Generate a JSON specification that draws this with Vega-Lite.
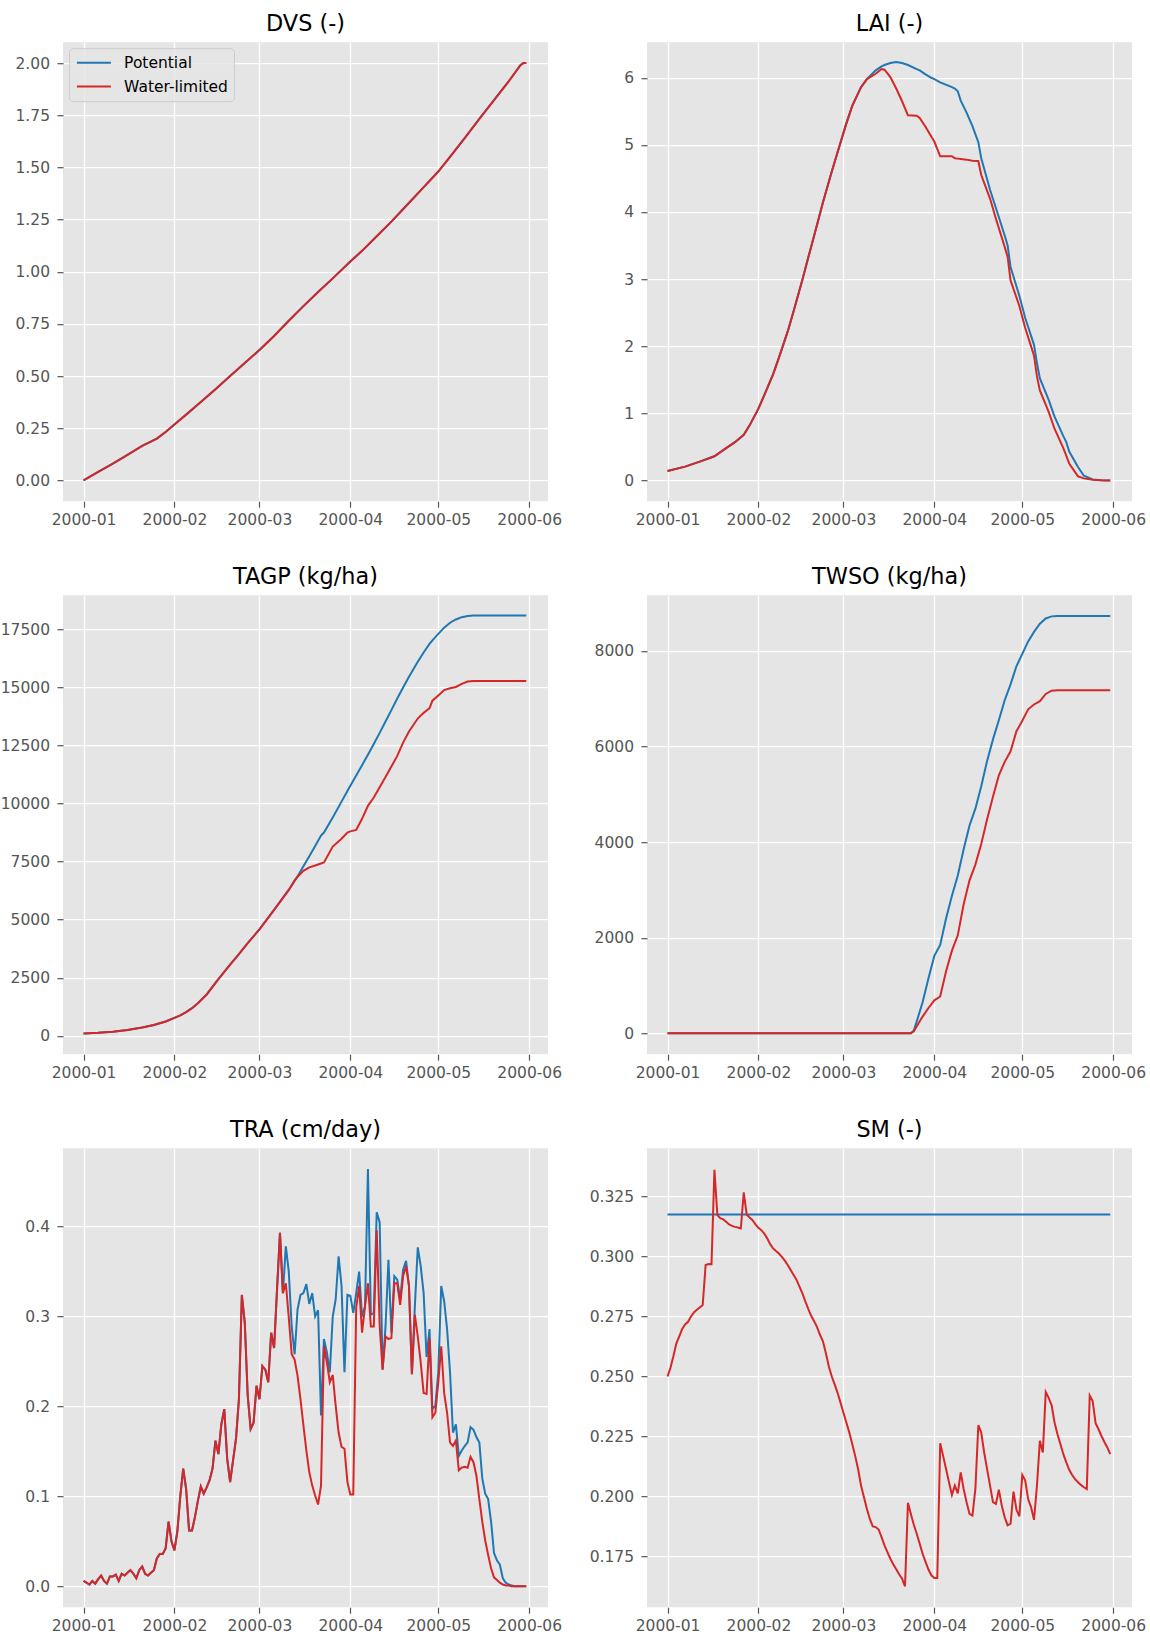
{
"$schema":"https://vega.github.io/schema/vega-lite/v6.json",
"background":"white",
"padding":{"left":0,"top":13.2,"right":0,"bottom":0},
"bounds":"flush",
"columns":2,
"spacing":{"row":94,"column":99},
"config":{
 "font":"DejaVu Sans",
 "view":{"fill":"#E5E5E5","stroke":null},
 "axis":{"labelFont":"DejaVu Sans","labelFontSize":15.5,"labelColor":"#555555","tickColor":"#555555","tickSize":6,"tickWidth":1.2,"domain":false,"grid":true,"gridColor":"#FFFFFF","gridWidth":1.3,"gridOpacity":1,"labelFlush":false},
 "axisX":{"labelPadding":5.5},
 "axisY":{"labelPadding":7.5},
 "title":{"font":"DejaVu Sans","fontSize":22.4,"fontWeight":"normal","color":"#000000","anchor":"middle","frame":"group","baseline":"alphabetic","offset":6.5},
 "line":{"strokeWidth":2}
},
"resolve":{"scale":{"x":"independent","y":"independent","color":"independent"},"legend":{"color":"independent"}},
"datasets":{
"dvs":[
{"date":"2000-01-01","Potential":0.000,"Water-limited":0.000},
{"date":"2000-01-06","Potential":0.040,"Water-limited":0.040},
{"date":"2000-01-11","Potential":0.080,"Water-limited":0.080},
{"date":"2000-01-16","Potential":0.122,"Water-limited":0.122},
{"date":"2000-01-21","Potential":0.165,"Water-limited":0.165},
{"date":"2000-01-26","Potential":0.200,"Water-limited":0.200},
{"date":"2000-01-29","Potential":0.232,"Water-limited":0.232},
{"date":"2000-02-01","Potential":0.268,"Water-limited":0.268},
{"date":"2000-02-05","Potential":0.315,"Water-limited":0.315},
{"date":"2000-02-10","Potential":0.375,"Water-limited":0.375},
{"date":"2000-02-15","Potential":0.437,"Water-limited":0.437},
{"date":"2000-02-20","Potential":0.500,"Water-limited":0.500},
{"date":"2000-02-25","Potential":0.562,"Water-limited":0.562},
{"date":"2000-03-01","Potential":0.625,"Water-limited":0.625},
{"date":"2000-03-06","Potential":0.692,"Water-limited":0.692},
{"date":"2000-03-11","Potential":0.765,"Water-limited":0.765},
{"date":"2000-03-16","Potential":0.835,"Water-limited":0.835},
{"date":"2000-03-21","Potential":0.903,"Water-limited":0.903},
{"date":"2000-03-26","Potential":0.968,"Water-limited":0.968},
{"date":"2000-04-01","Potential":1.049,"Water-limited":1.049},
{"date":"2000-04-05","Potential":1.100,"Water-limited":1.100},
{"date":"2000-04-10","Potential":1.170,"Water-limited":1.170},
{"date":"2000-04-15","Potential":1.240,"Water-limited":1.240},
{"date":"2000-04-20","Potential":1.315,"Water-limited":1.315},
{"date":"2000-04-25","Potential":1.390,"Water-limited":1.390},
{"date":"2000-05-01","Potential":1.480,"Water-limited":1.480},
{"date":"2000-05-05","Potential":1.550,"Water-limited":1.550},
{"date":"2000-05-10","Potential":1.640,"Water-limited":1.640},
{"date":"2000-05-15","Potential":1.732,"Water-limited":1.732},
{"date":"2000-05-20","Potential":1.822,"Water-limited":1.822},
{"date":"2000-05-25","Potential":1.912,"Water-limited":1.912},
{"date":"2000-05-29","Potential":1.990,"Water-limited":1.990},
{"date":"2000-05-30","Potential":2.000,"Water-limited":2.000},
{"date":"2000-05-31","Potential":2.000,"Water-limited":2.000}
],
"lai":[
{"date":"2000-01-01","Potential":0.14,"Water-limited":0.14},
{"date":"2000-01-07","Potential":0.205,"Water-limited":0.205},
{"date":"2000-01-12","Potential":0.28,"Water-limited":0.28},
{"date":"2000-01-17","Potential":0.36,"Water-limited":0.36},
{"date":"2000-01-21","Potential":0.48,"Water-limited":0.48},
{"date":"2000-01-24","Potential":0.57,"Water-limited":0.57},
{"date":"2000-01-27","Potential":0.68,"Water-limited":0.68},
{"date":"2000-01-29","Potential":0.82,"Water-limited":0.82},
{"date":"2000-02-01","Potential":1.07,"Water-limited":1.07},
{"date":"2000-02-03","Potential":1.27,"Water-limited":1.27},
{"date":"2000-02-06","Potential":1.58,"Water-limited":1.58},
{"date":"2000-02-08","Potential":1.83,"Water-limited":1.83},
{"date":"2000-02-11","Potential":2.22,"Water-limited":2.22},
{"date":"2000-02-13","Potential":2.52,"Water-limited":2.52},
{"date":"2000-02-16","Potential":2.99,"Water-limited":2.99},
{"date":"2000-02-18","Potential":3.32,"Water-limited":3.32},
{"date":"2000-02-21","Potential":3.81,"Water-limited":3.81},
{"date":"2000-02-23","Potential":4.14,"Water-limited":4.14},
{"date":"2000-02-26","Potential":4.60,"Water-limited":4.60},
{"date":"2000-02-28","Potential":4.89,"Water-limited":4.89},
{"date":"2000-03-02","Potential":5.32,"Water-limited":5.32},
{"date":"2000-03-04","Potential":5.58,"Water-limited":5.58},
{"date":"2000-03-07","Potential":5.86,"Water-limited":5.86},
{"date":"2000-03-09","Potential":5.98,"Water-limited":5.98},
{"date":"2000-03-12","Potential":6.11,"Water-limited":6.06},
{"date":"2000-03-14","Potential":6.17,"Water-limited":6.13},
{"date":"2000-03-15","Potential":6.19,"Water-limited":6.12},
{"date":"2000-03-17","Potential":6.22,"Water-limited":6.01},
{"date":"2000-03-19","Potential":6.235,"Water-limited":5.84},
{"date":"2000-03-21","Potential":6.22,"Water-limited":5.65},
{"date":"2000-03-23","Potential":6.19,"Water-limited":5.44},
{"date":"2000-03-26","Potential":6.13,"Water-limited":5.435},
{"date":"2000-03-27","Potential":6.11,"Water-limited":5.40},
{"date":"2000-03-29","Potential":6.05,"Water-limited":5.27},
{"date":"2000-03-31","Potential":6.00,"Water-limited":5.12},
{"date":"2000-04-01","Potential":5.98,"Water-limited":5.05},
{"date":"2000-04-03","Potential":5.93,"Water-limited":4.83},
{"date":"2000-04-07","Potential":5.86,"Water-limited":4.83},
{"date":"2000-04-08","Potential":5.84,"Water-limited":4.80},
{"date":"2000-04-09","Potential":5.80,"Water-limited":4.795},
{"date":"2000-04-10","Potential":5.66,"Water-limited":4.79},
{"date":"2000-04-12","Potential":5.48,"Water-limited":4.78},
{"date":"2000-04-14","Potential":5.28,"Water-limited":4.765},
{"date":"2000-04-16","Potential":5.04,"Water-limited":4.76},
{"date":"2000-04-17","Potential":4.80,"Water-limited":4.55},
{"date":"2000-04-20","Potential":4.33,"Water-limited":4.20},
{"date":"2000-04-22","Potential":4.06,"Water-limited":3.90},
{"date":"2000-04-25","Potential":3.65,"Water-limited":3.48},
{"date":"2000-04-26","Potential":3.50,"Water-limited":3.33},
{"date":"2000-04-27","Potential":3.18,"Water-limited":2.98},
{"date":"2000-04-30","Potential":2.75,"Water-limited":2.60},
{"date":"2000-05-02","Potential":2.42,"Water-limited":2.27},
{"date":"2000-05-05","Potential":2.02,"Water-limited":1.86},
{"date":"2000-05-06","Potential":1.75,"Water-limited":1.55},
{"date":"2000-05-07","Potential":1.52,"Water-limited":1.34},
{"date":"2000-05-10","Potential":1.20,"Water-limited":1.02},
{"date":"2000-05-12","Potential":0.95,"Water-limited":0.77},
{"date":"2000-05-15","Potential":0.66,"Water-limited":0.48},
{"date":"2000-05-16","Potential":0.57,"Water-limited":0.37},
{"date":"2000-05-17","Potential":0.43,"Water-limited":0.25},
{"date":"2000-05-20","Potential":0.20,"Water-limited":0.06},
{"date":"2000-05-22","Potential":0.07,"Water-limited":0.03},
{"date":"2000-05-25","Potential":0.015,"Water-limited":0.008},
{"date":"2000-05-28","Potential":0.003,"Water-limited":0.002},
{"date":"2000-05-31","Potential":0.0,"Water-limited":0.0}
],
"tagp":[
{"date":"2000-01-01","Potential":103,"Water-limited":103},
{"date":"2000-01-06","Potential":128,"Water-limited":128},
{"date":"2000-01-11","Potential":175,"Water-limited":175},
{"date":"2000-01-16","Potential":255,"Water-limited":255},
{"date":"2000-01-21","Potential":360,"Water-limited":360},
{"date":"2000-01-25","Potential":470,"Water-limited":470},
{"date":"2000-01-29","Potential":620,"Water-limited":620},
{"date":"2000-02-01","Potential":770,"Water-limited":770},
{"date":"2000-02-03","Potential":880,"Water-limited":880},
{"date":"2000-02-05","Potential":1020,"Water-limited":1020},
{"date":"2000-02-07","Potential":1190,"Water-limited":1190},
{"date":"2000-02-09","Potential":1400,"Water-limited":1400},
{"date":"2000-02-12","Potential":1780,"Water-limited":1780},
{"date":"2000-02-16","Potential":2440,"Water-limited":2440},
{"date":"2000-02-20","Potential":3060,"Water-limited":3060},
{"date":"2000-02-23","Potential":3520,"Water-limited":3520},
{"date":"2000-02-26","Potential":3990,"Water-limited":3990},
{"date":"2000-03-01","Potential":4580,"Water-limited":4580},
{"date":"2000-03-06","Potential":5420,"Water-limited":5420},
{"date":"2000-03-11","Potential":6280,"Water-limited":6280},
{"date":"2000-03-13","Potential":6680,"Water-limited":6680},
{"date":"2000-03-14","Potential":6860,"Water-limited":6850},
{"date":"2000-03-16","Potential":7300,"Water-limited":7100},
{"date":"2000-03-18","Potential":7730,"Water-limited":7250},
{"date":"2000-03-20","Potential":8170,"Water-limited":7330},
{"date":"2000-03-22","Potential":8620,"Water-limited":7420},
{"date":"2000-03-23","Potential":8750,"Water-limited":7460},
{"date":"2000-03-26","Potential":9400,"Water-limited":8144},
{"date":"2000-03-29","Potential":10080,"Water-limited":8484},
{"date":"2000-03-31","Potential":10540,"Water-limited":8750},
{"date":"2000-04-01","Potential":10760,"Water-limited":8800},
{"date":"2000-04-03","Potential":11200,"Water-limited":8860},
{"date":"2000-04-05","Potential":11650,"Water-limited":9340},
{"date":"2000-04-07","Potential":12100,"Water-limited":9900},
{"date":"2000-04-09","Potential":12560,"Water-limited":10257},
{"date":"2000-04-11","Potential":13040,"Water-limited":10700},
{"date":"2000-04-13","Potential":13530,"Water-limited":11144},
{"date":"2000-04-15","Potential":14020,"Water-limited":11587},
{"date":"2000-04-17","Potential":14520,"Water-limited":12050},
{"date":"2000-04-19","Potential":14990,"Water-limited":12622},
{"date":"2000-04-21","Potential":15450,"Water-limited":13100},
{"date":"2000-04-24","Potential":16100,"Water-limited":13656},
{"date":"2000-04-26","Potential":16500,"Water-limited":13900},
{"date":"2000-04-28","Potential":16870,"Water-limited":14100},
{"date":"2000-04-29","Potential":17020,"Water-limited":14425},
{"date":"2000-05-01","Potential":17300,"Water-limited":14650},
{"date":"2000-05-03","Potential":17570,"Water-limited":14883},
{"date":"2000-05-05","Potential":17780,"Water-limited":14960},
{"date":"2000-05-07","Potential":17920,"Water-limited":15016},
{"date":"2000-05-09","Potential":18020,"Water-limited":15150},
{"date":"2000-05-11","Potential":18070,"Water-limited":15250},
{"date":"2000-05-13","Potential":18090,"Water-limited":15268},
{"date":"2000-05-31","Potential":18090,"Water-limited":15268}
],
"twso":[
{"date":"2000-01-01","Potential":0,"Water-limited":0},
{"date":"2000-03-24","Potential":0,"Water-limited":0},
{"date":"2000-03-25","Potential":60,"Water-limited":40},
{"date":"2000-03-26","Potential":250,"Water-limited":150},
{"date":"2000-03-28","Potential":650,"Water-limited":350},
{"date":"2000-03-30","Potential":1150,"Water-limited":530},
{"date":"2000-04-01","Potential":1620,"Water-limited":690},
{"date":"2000-04-03","Potential":1850,"Water-limited":770},
{"date":"2000-04-05","Potential":2400,"Water-limited":1300},
{"date":"2000-04-07","Potential":2880,"Water-limited":1730},
{"date":"2000-04-09","Potential":3300,"Water-limited":2050},
{"date":"2000-04-11","Potential":3850,"Water-limited":2700},
{"date":"2000-04-13","Potential":4350,"Water-limited":3200},
{"date":"2000-04-15","Potential":4700,"Water-limited":3530},
{"date":"2000-04-17","Potential":5170,"Water-limited":3960},
{"date":"2000-04-19","Potential":5700,"Water-limited":4480},
{"date":"2000-04-21","Potential":6150,"Water-limited":4950},
{"date":"2000-04-23","Potential":6550,"Water-limited":5400},
{"date":"2000-04-25","Potential":6970,"Water-limited":5680},
{"date":"2000-04-27","Potential":7300,"Water-limited":5900},
{"date":"2000-04-29","Potential":7680,"Water-limited":6320},
{"date":"2000-05-01","Potential":7940,"Water-limited":6540},
{"date":"2000-05-03","Potential":8200,"Water-limited":6780},
{"date":"2000-05-05","Potential":8400,"Water-limited":6880},
{"date":"2000-05-07","Potential":8570,"Water-limited":6950},
{"date":"2000-05-09","Potential":8680,"Water-limited":7100},
{"date":"2000-05-11","Potential":8724,"Water-limited":7168},
{"date":"2000-05-13","Potential":8730,"Water-limited":7176},
{"date":"2000-05-31","Potential":8730,"Water-limited":7176}
],
"tra":[
{"date":"2000-01-01","Potential":0.006,"Water-limited":0.006},
{"date":"2000-01-02","Potential":0.004,"Water-limited":0.004},
{"date":"2000-01-03","Potential":0.002,"Water-limited":0.002},
{"date":"2000-01-04","Potential":0.006,"Water-limited":0.006},
{"date":"2000-01-05","Potential":0.003,"Water-limited":0.003},
{"date":"2000-01-06","Potential":0.008,"Water-limited":0.008},
{"date":"2000-01-07","Potential":0.012,"Water-limited":0.012},
{"date":"2000-01-08","Potential":0.006,"Water-limited":0.006},
{"date":"2000-01-09","Potential":0.003,"Water-limited":0.003},
{"date":"2000-01-10","Potential":0.011,"Water-limited":0.011},
{"date":"2000-01-11","Potential":0.011,"Water-limited":0.011},
{"date":"2000-01-12","Potential":0.013,"Water-limited":0.013},
{"date":"2000-01-13","Potential":0.006,"Water-limited":0.006},
{"date":"2000-01-14","Potential":0.014,"Water-limited":0.014},
{"date":"2000-01-15","Potential":0.012,"Water-limited":0.012},
{"date":"2000-01-16","Potential":0.015,"Water-limited":0.015},
{"date":"2000-01-17","Potential":0.018,"Water-limited":0.018},
{"date":"2000-01-18","Potential":0.014,"Water-limited":0.014},
{"date":"2000-01-19","Potential":0.009,"Water-limited":0.009},
{"date":"2000-01-20","Potential":0.018,"Water-limited":0.018},
{"date":"2000-01-21","Potential":0.022,"Water-limited":0.022},
{"date":"2000-01-22","Potential":0.014,"Water-limited":0.014},
{"date":"2000-01-23","Potential":0.012,"Water-limited":0.012},
{"date":"2000-01-24","Potential":0.015,"Water-limited":0.015},
{"date":"2000-01-25","Potential":0.018,"Water-limited":0.018},
{"date":"2000-01-26","Potential":0.031,"Water-limited":0.031},
{"date":"2000-01-27","Potential":0.036,"Water-limited":0.036},
{"date":"2000-01-28","Potential":0.036,"Water-limited":0.036},
{"date":"2000-01-29","Potential":0.042,"Water-limited":0.042},
{"date":"2000-01-30","Potential":0.072,"Water-limited":0.072},
{"date":"2000-01-31","Potential":0.050,"Water-limited":0.050},
{"date":"2000-02-01","Potential":0.040,"Water-limited":0.040},
{"date":"2000-02-02","Potential":0.061,"Water-limited":0.061},
{"date":"2000-02-03","Potential":0.100,"Water-limited":0.100},
{"date":"2000-02-04","Potential":0.131,"Water-limited":0.131},
{"date":"2000-02-05","Potential":0.108,"Water-limited":0.108},
{"date":"2000-02-06","Potential":0.062,"Water-limited":0.062},
{"date":"2000-02-07","Potential":0.062,"Water-limited":0.062},
{"date":"2000-02-08","Potential":0.077,"Water-limited":0.077},
{"date":"2000-02-09","Potential":0.095,"Water-limited":0.095},
{"date":"2000-02-10","Potential":0.111,"Water-limited":0.111},
{"date":"2000-02-11","Potential":0.103,"Water-limited":0.103},
{"date":"2000-02-12","Potential":0.110,"Water-limited":0.110},
{"date":"2000-02-13","Potential":0.118,"Water-limited":0.118},
{"date":"2000-02-14","Potential":0.131,"Water-limited":0.131},
{"date":"2000-02-15","Potential":0.162,"Water-limited":0.162},
{"date":"2000-02-16","Potential":0.147,"Water-limited":0.147},
{"date":"2000-02-17","Potential":0.180,"Water-limited":0.180},
{"date":"2000-02-18","Potential":0.197,"Water-limited":0.197},
{"date":"2000-02-19","Potential":0.142,"Water-limited":0.142},
{"date":"2000-02-20","Potential":0.116,"Water-limited":0.116},
{"date":"2000-02-21","Potential":0.140,"Water-limited":0.140},
{"date":"2000-02-22","Potential":0.164,"Water-limited":0.164},
{"date":"2000-02-23","Potential":0.208,"Water-limited":0.208},
{"date":"2000-02-24","Potential":0.324,"Water-limited":0.324},
{"date":"2000-02-25","Potential":0.293,"Water-limited":0.293},
{"date":"2000-02-26","Potential":0.212,"Water-limited":0.212},
{"date":"2000-02-27","Potential":0.175,"Water-limited":0.175},
{"date":"2000-02-28","Potential":0.182,"Water-limited":0.182},
{"date":"2000-02-29","Potential":0.223,"Water-limited":0.223},
{"date":"2000-03-01","Potential":0.208,"Water-limited":0.208},
{"date":"2000-03-02","Potential":0.245,"Water-limited":0.245},
{"date":"2000-03-03","Potential":0.241,"Water-limited":0.241},
{"date":"2000-03-04","Potential":0.227,"Water-limited":0.227},
{"date":"2000-03-05","Potential":0.282,"Water-limited":0.282},
{"date":"2000-03-06","Potential":0.265,"Water-limited":0.265},
{"date":"2000-03-07","Potential":0.330,"Water-limited":0.330},
{"date":"2000-03-08","Potential":0.393,"Water-limited":0.393},
{"date":"2000-03-09","Potential":0.326,"Water-limited":0.326},
{"date":"2000-03-10","Potential":0.378,"Water-limited":0.337},
{"date":"2000-03-11","Potential":0.350,"Water-limited":0.299},
{"date":"2000-03-12","Potential":0.289,"Water-limited":0.258},
{"date":"2000-03-13","Potential":0.258,"Water-limited":0.252},
{"date":"2000-03-14","Potential":0.308,"Water-limited":0.234},
{"date":"2000-03-15","Potential":0.324,"Water-limited":0.208},
{"date":"2000-03-16","Potential":0.326,"Water-limited":0.179},
{"date":"2000-03-17","Potential":0.336,"Water-limited":0.151},
{"date":"2000-03-18","Potential":0.314,"Water-limited":0.127},
{"date":"2000-03-19","Potential":0.326,"Water-limited":0.112},
{"date":"2000-03-20","Potential":0.300,"Water-limited":0.101},
{"date":"2000-03-21","Potential":0.307,"Water-limited":0.091},
{"date":"2000-03-22","Potential":0.190,"Water-limited":0.112},
{"date":"2000-03-23","Potential":0.275,"Water-limited":0.267},
{"date":"2000-03-24","Potential":0.260,"Water-limited":0.249},
{"date":"2000-03-25","Potential":0.238,"Water-limited":0.227},
{"date":"2000-03-26","Potential":0.300,"Water-limited":0.235},
{"date":"2000-03-27","Potential":0.319,"Water-limited":0.201},
{"date":"2000-03-28","Potential":0.367,"Water-limited":0.171},
{"date":"2000-03-29","Potential":0.334,"Water-limited":0.155},
{"date":"2000-03-30","Potential":0.238,"Water-limited":0.153},
{"date":"2000-03-31","Potential":0.324,"Water-limited":0.116},
{"date":"2000-04-01","Potential":0.323,"Water-limited":0.102},
{"date":"2000-04-02","Potential":0.304,"Water-limited":0.102},
{"date":"2000-04-03","Potential":0.326,"Water-limited":0.310},
{"date":"2000-04-04","Potential":0.350,"Water-limited":0.334},
{"date":"2000-04-05","Potential":0.300,"Water-limited":0.282},
{"date":"2000-04-06","Potential":0.311,"Water-limited":0.311},
{"date":"2000-04-07","Potential":0.464,"Water-limited":0.337},
{"date":"2000-04-08","Potential":0.302,"Water-limited":0.289},
{"date":"2000-04-09","Potential":0.304,"Water-limited":0.289},
{"date":"2000-04-10","Potential":0.416,"Water-limited":0.396},
{"date":"2000-04-11","Potential":0.405,"Water-limited":0.290},
{"date":"2000-04-12","Potential":0.241,"Water-limited":0.241},
{"date":"2000-04-13","Potential":0.289,"Water-limited":0.278},
{"date":"2000-04-14","Potential":0.363,"Water-limited":0.275},
{"date":"2000-04-15","Potential":0.282,"Water-limited":0.276},
{"date":"2000-04-16","Potential":0.345,"Water-limited":0.337},
{"date":"2000-04-17","Potential":0.341,"Water-limited":0.337},
{"date":"2000-04-18","Potential":0.319,"Water-limited":0.313},
{"date":"2000-04-19","Potential":0.352,"Water-limited":0.345},
{"date":"2000-04-20","Potential":0.362,"Water-limited":0.356},
{"date":"2000-04-21","Potential":0.334,"Water-limited":0.334},
{"date":"2000-04-22","Potential":0.236,"Water-limited":0.236},
{"date":"2000-04-23","Potential":0.311,"Water-limited":0.302},
{"date":"2000-04-24","Potential":0.377,"Water-limited":0.278},
{"date":"2000-04-25","Potential":0.356,"Water-limited":0.249},
{"date":"2000-04-26","Potential":0.326,"Water-limited":0.215},
{"date":"2000-04-27","Potential":0.255,"Water-limited":0.214},
{"date":"2000-04-28","Potential":0.286,"Water-limited":0.276},
{"date":"2000-04-29","Potential":0.197,"Water-limited":0.188},
{"date":"2000-04-30","Potential":0.201,"Water-limited":0.193},
{"date":"2000-05-01","Potential":0.238,"Water-limited":0.227},
{"date":"2000-05-02","Potential":0.334,"Water-limited":0.267},
{"date":"2000-05-03","Potential":0.317,"Water-limited":0.215},
{"date":"2000-05-04","Potential":0.286,"Water-limited":0.193},
{"date":"2000-05-05","Potential":0.238,"Water-limited":0.160},
{"date":"2000-05-06","Potential":0.171,"Water-limited":0.156},
{"date":"2000-05-07","Potential":0.180,"Water-limited":0.162},
{"date":"2000-05-08","Potential":0.145,"Water-limited":0.129},
{"date":"2000-05-09","Potential":0.151,"Water-limited":0.132},
{"date":"2000-05-10","Potential":0.156,"Water-limited":0.133},
{"date":"2000-05-11","Potential":0.160,"Water-limited":0.132},
{"date":"2000-05-12","Potential":0.177,"Water-limited":0.144},
{"date":"2000-05-13","Potential":0.174,"Water-limited":0.138},
{"date":"2000-05-14","Potential":0.166,"Water-limited":0.123},
{"date":"2000-05-15","Potential":0.160,"Water-limited":0.097},
{"date":"2000-05-16","Potential":0.120,"Water-limited":0.072},
{"date":"2000-05-17","Potential":0.103,"Water-limited":0.051},
{"date":"2000-05-18","Potential":0.097,"Water-limited":0.035},
{"date":"2000-05-19","Potential":0.072,"Water-limited":0.020},
{"date":"2000-05-20","Potential":0.037,"Water-limited":0.010},
{"date":"2000-05-21","Potential":0.029,"Water-limited":0.007},
{"date":"2000-05-22","Potential":0.024,"Water-limited":0.004},
{"date":"2000-05-23","Potential":0.009,"Water-limited":0.002},
{"date":"2000-05-24","Potential":0.004,"Water-limited":0.001},
{"date":"2000-05-25","Potential":0.002,"Water-limited":0.001},
{"date":"2000-05-26","Potential":0.001,"Water-limited":0.0},
{"date":"2000-05-27","Potential":0.0,"Water-limited":0.0},
{"date":"2000-05-28","Potential":0.0,"Water-limited":0.0},
{"date":"2000-05-29","Potential":0.0,"Water-limited":0.0},
{"date":"2000-05-30","Potential":0.0,"Water-limited":0.0},
{"date":"2000-05-31","Potential":0.0,"Water-limited":0.0}
],
"sm":[
{"date":"2000-01-01","Potential":0.3175,"Water-limited":0.2500},
{"date":"2000-01-02","Potential":0.3175,"Water-limited":0.2536},
{"date":"2000-01-03","Potential":0.3175,"Water-limited":0.2584},
{"date":"2000-01-04","Potential":0.3175,"Water-limited":0.2637},
{"date":"2000-01-05","Potential":0.3175,"Water-limited":0.2667},
{"date":"2000-01-06","Potential":0.3175,"Water-limited":0.2698},
{"date":"2000-01-07","Potential":0.3175,"Water-limited":0.2717},
{"date":"2000-01-08","Potential":0.3175,"Water-limited":0.2728},
{"date":"2000-01-09","Potential":0.3175,"Water-limited":0.2750},
{"date":"2000-01-10","Potential":0.3175,"Water-limited":0.2767},
{"date":"2000-01-11","Potential":0.3175,"Water-limited":0.2778},
{"date":"2000-01-12","Potential":0.3175,"Water-limited":0.2788},
{"date":"2000-01-13","Potential":0.3175,"Water-limited":0.2798},
{"date":"2000-01-14","Potential":0.3175,"Water-limited":0.2965},
{"date":"2000-01-15","Potential":0.3175,"Water-limited":0.2969},
{"date":"2000-01-16","Potential":0.3175,"Water-limited":0.2968},
{"date":"2000-01-17","Potential":0.3175,"Water-limited":0.3362},
{"date":"2000-01-18","Potential":0.3175,"Water-limited":0.3173},
{"date":"2000-01-19","Potential":0.3175,"Water-limited":0.3160},
{"date":"2000-01-20","Potential":0.3175,"Water-limited":0.3155},
{"date":"2000-01-21","Potential":0.3175,"Water-limited":0.3145},
{"date":"2000-01-22","Potential":0.3175,"Water-limited":0.3134},
{"date":"2000-01-23","Potential":0.3175,"Water-limited":0.3128},
{"date":"2000-01-24","Potential":0.3175,"Water-limited":0.3124},
{"date":"2000-01-25","Potential":0.3175,"Water-limited":0.3121},
{"date":"2000-01-26","Potential":0.3175,"Water-limited":0.3117},
{"date":"2000-01-27","Potential":0.3175,"Water-limited":0.3268},
{"date":"2000-01-28","Potential":0.3175,"Water-limited":0.3175},
{"date":"2000-01-29","Potential":0.3175,"Water-limited":0.3163},
{"date":"2000-01-30","Potential":0.3175,"Water-limited":0.3152},
{"date":"2000-01-31","Potential":0.3175,"Water-limited":0.3134},
{"date":"2000-02-01","Potential":0.3175,"Water-limited":0.3120},
{"date":"2000-02-02","Potential":0.3175,"Water-limited":0.3110},
{"date":"2000-02-03","Potential":0.3175,"Water-limited":0.3096},
{"date":"2000-02-04","Potential":0.3175,"Water-limited":0.3076},
{"date":"2000-02-05","Potential":0.3175,"Water-limited":0.3052},
{"date":"2000-02-06","Potential":0.3175,"Water-limited":0.3034},
{"date":"2000-02-07","Potential":0.3175,"Water-limited":0.3023},
{"date":"2000-02-08","Potential":0.3175,"Water-limited":0.3013},
{"date":"2000-02-09","Potential":0.3175,"Water-limited":0.2999},
{"date":"2000-02-10","Potential":0.3175,"Water-limited":0.2983},
{"date":"2000-02-11","Potential":0.3175,"Water-limited":0.2965},
{"date":"2000-02-12","Potential":0.3175,"Water-limited":0.2944},
{"date":"2000-02-13","Potential":0.3175,"Water-limited":0.2923},
{"date":"2000-02-14","Potential":0.3175,"Water-limited":0.2903},
{"date":"2000-02-15","Potential":0.3175,"Water-limited":0.2875},
{"date":"2000-02-16","Potential":0.3175,"Water-limited":0.2847},
{"date":"2000-02-17","Potential":0.3175,"Water-limited":0.2813},
{"date":"2000-02-18","Potential":0.3175,"Water-limited":0.2782},
{"date":"2000-02-19","Potential":0.3175,"Water-limited":0.2753},
{"date":"2000-02-20","Potential":0.3175,"Water-limited":0.2730},
{"date":"2000-02-21","Potential":0.3175,"Water-limited":0.2706},
{"date":"2000-02-22","Potential":0.3175,"Water-limited":0.2674},
{"date":"2000-02-23","Potential":0.3175,"Water-limited":0.2647},
{"date":"2000-02-24","Potential":0.3175,"Water-limited":0.2598},
{"date":"2000-02-25","Potential":0.3175,"Water-limited":0.2543},
{"date":"2000-02-26","Potential":0.3175,"Water-limited":0.2501},
{"date":"2000-02-27","Potential":0.3175,"Water-limited":0.2467},
{"date":"2000-02-28","Potential":0.3175,"Water-limited":0.2432},
{"date":"2000-02-29","Potential":0.3175,"Water-limited":0.2391},
{"date":"2000-03-01","Potential":0.3175,"Water-limited":0.2349},
{"date":"2000-03-02","Potential":0.3175,"Water-limited":0.2308},
{"date":"2000-03-03","Potential":0.3175,"Water-limited":0.2266},
{"date":"2000-03-04","Potential":0.3175,"Water-limited":0.2218},
{"date":"2000-03-05","Potential":0.3175,"Water-limited":0.2169},
{"date":"2000-03-06","Potential":0.3175,"Water-limited":0.2114},
{"date":"2000-03-07","Potential":0.3175,"Water-limited":0.2045},
{"date":"2000-03-08","Potential":0.3175,"Water-limited":0.1996},
{"date":"2000-03-09","Potential":0.3175,"Water-limited":0.1948},
{"date":"2000-03-10","Potential":0.3175,"Water-limited":0.1906},
{"date":"2000-03-11","Potential":0.3175,"Water-limited":0.1875},
{"date":"2000-03-12","Potential":0.3175,"Water-limited":0.1872},
{"date":"2000-03-13","Potential":0.3175,"Water-limited":0.1862},
{"date":"2000-03-14","Potential":0.3175,"Water-limited":0.1830},
{"date":"2000-03-15","Potential":0.3175,"Water-limited":0.1796},
{"date":"2000-03-16","Potential":0.3175,"Water-limited":0.1768},
{"date":"2000-03-17","Potential":0.3175,"Water-limited":0.1740},
{"date":"2000-03-18","Potential":0.3175,"Water-limited":0.1717},
{"date":"2000-03-19","Potential":0.3175,"Water-limited":0.1696},
{"date":"2000-03-20","Potential":0.3175,"Water-limited":0.1675},
{"date":"2000-03-21","Potential":0.3175,"Water-limited":0.1657},
{"date":"2000-03-22","Potential":0.3175,"Water-limited":0.1625},
{"date":"2000-03-23","Potential":0.3175,"Water-limited":0.1973},
{"date":"2000-03-24","Potential":0.3175,"Water-limited":0.1927},
{"date":"2000-03-25","Potential":0.3175,"Water-limited":0.1882},
{"date":"2000-03-26","Potential":0.3175,"Water-limited":0.1844},
{"date":"2000-03-27","Potential":0.3175,"Water-limited":0.1803},
{"date":"2000-03-28","Potential":0.3175,"Water-limited":0.1761},
{"date":"2000-03-29","Potential":0.3175,"Water-limited":0.1727},
{"date":"2000-03-30","Potential":0.3175,"Water-limited":0.1695},
{"date":"2000-03-31","Potential":0.3175,"Water-limited":0.1671},
{"date":"2000-04-01","Potential":0.3175,"Water-limited":0.1660},
{"date":"2000-04-02","Potential":0.3175,"Water-limited":0.1660},
{"date":"2000-04-03","Potential":0.3175,"Water-limited":0.2222},
{"date":"2000-04-04","Potential":0.3175,"Water-limited":0.2169},
{"date":"2000-04-05","Potential":0.3175,"Water-limited":0.2114},
{"date":"2000-04-06","Potential":0.3175,"Water-limited":0.2059},
{"date":"2000-04-07","Potential":0.3175,"Water-limited":0.2006},
{"date":"2000-04-08","Potential":0.3175,"Water-limited":0.2045},
{"date":"2000-04-09","Potential":0.3175,"Water-limited":0.2013},
{"date":"2000-04-10","Potential":0.3175,"Water-limited":0.2100},
{"date":"2000-04-11","Potential":0.3175,"Water-limited":0.2031},
{"date":"2000-04-12","Potential":0.3175,"Water-limited":0.1976},
{"date":"2000-04-13","Potential":0.3175,"Water-limited":0.1927},
{"date":"2000-04-14","Potential":0.3175,"Water-limited":0.1920},
{"date":"2000-04-15","Potential":0.3175,"Water-limited":0.2031},
{"date":"2000-04-16","Potential":0.3175,"Water-limited":0.2297},
{"date":"2000-04-17","Potential":0.3175,"Water-limited":0.2266},
{"date":"2000-04-18","Potential":0.3175,"Water-limited":0.2183},
{"date":"2000-04-19","Potential":0.3175,"Water-limited":0.2114},
{"date":"2000-04-20","Potential":0.3175,"Water-limited":0.2045},
{"date":"2000-04-21","Potential":0.3175,"Water-limited":0.1976},
{"date":"2000-04-22","Potential":0.3175,"Water-limited":0.1969},
{"date":"2000-04-23","Potential":0.3175,"Water-limited":0.2028},
{"date":"2000-04-24","Potential":0.3175,"Water-limited":0.1962},
{"date":"2000-04-25","Potential":0.3175,"Water-limited":0.1913},
{"date":"2000-04-26","Potential":0.3175,"Water-limited":0.1879},
{"date":"2000-04-27","Potential":0.3175,"Water-limited":0.1886},
{"date":"2000-04-28","Potential":0.3175,"Water-limited":0.2020},
{"date":"2000-04-29","Potential":0.3175,"Water-limited":0.1945},
{"date":"2000-04-30","Potential":0.3175,"Water-limited":0.1917},
{"date":"2000-05-01","Potential":0.3175,"Water-limited":0.2090},
{"date":"2000-05-02","Potential":0.3175,"Water-limited":0.2066},
{"date":"2000-05-03","Potential":0.3175,"Water-limited":0.1989},
{"date":"2000-05-04","Potential":0.3175,"Water-limited":0.1955},
{"date":"2000-05-05","Potential":0.3175,"Water-limited":0.1902},
{"date":"2000-05-06","Potential":0.3175,"Water-limited":0.2045},
{"date":"2000-05-07","Potential":0.3175,"Water-limited":0.2232},
{"date":"2000-05-08","Potential":0.3175,"Water-limited":0.2183},
{"date":"2000-05-09","Potential":0.3175,"Water-limited":0.2435},
{"date":"2000-05-10","Potential":0.3175,"Water-limited":0.2411},
{"date":"2000-05-11","Potential":0.3175,"Water-limited":0.2380},
{"date":"2000-05-12","Potential":0.3175,"Water-limited":0.2308},
{"date":"2000-05-13","Potential":0.3175,"Water-limited":0.2259},
{"date":"2000-05-14","Potential":0.3175,"Water-limited":0.2218},
{"date":"2000-05-15","Potential":0.3175,"Water-limited":0.2176},
{"date":"2000-05-16","Potential":0.3175,"Water-limited":0.2142},
{"date":"2000-05-17","Potential":0.3175,"Water-limited":0.2111},
{"date":"2000-05-18","Potential":0.3175,"Water-limited":0.2089},
{"date":"2000-05-19","Potential":0.3175,"Water-limited":0.2072},
{"date":"2000-05-20","Potential":0.3175,"Water-limited":0.2059},
{"date":"2000-05-21","Potential":0.3175,"Water-limited":0.2048},
{"date":"2000-05-22","Potential":0.3175,"Water-limited":0.2038},
{"date":"2000-05-23","Potential":0.3175,"Water-limited":0.2031},
{"date":"2000-05-24","Potential":0.3175,"Water-limited":0.2421},
{"date":"2000-05-25","Potential":0.3175,"Water-limited":0.2398},
{"date":"2000-05-26","Potential":0.3175,"Water-limited":0.2305},
{"date":"2000-05-27","Potential":0.3175,"Water-limited":0.2280},
{"date":"2000-05-28","Potential":0.3175,"Water-limited":0.2252},
{"date":"2000-05-29","Potential":0.3175,"Water-limited":0.2227},
{"date":"2000-05-30","Potential":0.3175,"Water-limited":0.2204},
{"date":"2000-05-31","Potential":0.3175,"Water-limited":0.2176}
]
},
"concat":[
{
 "title":{"text":"DVS (-)"},
 "width":485,"height":459,
 "data":{"name":"dvs"},
 "transform":[{"fold":["Potential","Water-limited"],"as":["series","value"]}],
 "mark":{"type":"line","strokeWidth":2},
 "encoding":{
  "x":{"field":"date","type":"temporal","title":null,"scale":{"type":"utc","nice":false,"domain":[{"year":1999,"month":12,"date":25,"hours":0,"utc":true},{"year":2000,"month":6,"date":7,"hours":10,"utc":true}]},"axis":{"labelExpr":"utcFormat(datum.value, '%Y-%m')","values":[{"year":2000,"month":1,"date":1,"utc":true},{"year":2000,"month":2,"date":1,"utc":true},{"year":2000,"month":3,"date":1,"utc":true},{"year":2000,"month":4,"date":1,"utc":true},{"year":2000,"month":5,"date":1,"utc":true},{"year":2000,"month":6,"date":1,"utc":true}]}},
  "y":{"field":"value","type":"quantitative","title":null,"scale":{"domain":[-0.1,2.1],"nice":false,"zero":false},"axis":{"values":[0,0.25,0.5,0.75,1,1.25,1.5,1.75,2],"format":".2f"}},
  "color":{"field":"series","type":"nominal","scale":{"domain":["Potential","Water-limited"],"range":["#1f77b4","#d62728"]},
   "legend":{"orient":"top-left","offset":6,"title":null,"fillColor":"rgba(229,229,229,0.8)","strokeColor":"#CCCCCC","cornerRadius":4,"padding":5.6,"symbolType":"M-2.18,0H2.18","symbolStrokeWidth":2,"symbolSize":243,"symbolOffset":10.3,"labelFont":"DejaVu Sans","labelFontSize":15.5,"labelColor":"#000000","labelOffset":21.2,"rowPadding":5.8}}
 }
},
{
 "title":{"text":"LAI (-)"},
 "width":485,"height":459,
 "data":{"name":"lai"},
 "transform":[{"fold":["Potential","Water-limited"],"as":["series","value"]}],
 "mark":{"type":"line","strokeWidth":2},
 "encoding":{
  "x":{"field":"date","type":"temporal","title":null,"scale":{"type":"utc","nice":false,"domain":[{"year":1999,"month":12,"date":25,"hours":0,"utc":true},{"year":2000,"month":6,"date":7,"hours":10,"utc":true}]},"axis":{"labelExpr":"utcFormat(datum.value, '%Y-%m')","values":[{"year":2000,"month":1,"date":1,"utc":true},{"year":2000,"month":2,"date":1,"utc":true},{"year":2000,"month":3,"date":1,"utc":true},{"year":2000,"month":4,"date":1,"utc":true},{"year":2000,"month":5,"date":1,"utc":true},{"year":2000,"month":6,"date":1,"utc":true}]}},
  "y":{"field":"value","type":"quantitative","title":null,"scale":{"domain":[-0.31,6.53],"nice":false,"zero":false},"axis":{"values":[0,1,2,3,4,5,6],"format":"d"}},
  "color":{"field":"series","type":"nominal","scale":{"domain":["Potential","Water-limited"],"range":["#1f77b4","#d62728"]},"legend":null}
 }
},
{
 "title":{"text":"TAGP (kg/ha)"},
 "width":485,"height":459,
 "data":{"name":"tagp"},
 "transform":[{"fold":["Potential","Water-limited"],"as":["series","value"]}],
 "mark":{"type":"line","strokeWidth":2},
 "encoding":{
  "x":{"field":"date","type":"temporal","title":null,"scale":{"type":"utc","nice":false,"domain":[{"year":1999,"month":12,"date":25,"hours":0,"utc":true},{"year":2000,"month":6,"date":7,"hours":10,"utc":true}]},"axis":{"labelExpr":"utcFormat(datum.value, '%Y-%m')","values":[{"year":2000,"month":1,"date":1,"utc":true},{"year":2000,"month":2,"date":1,"utc":true},{"year":2000,"month":3,"date":1,"utc":true},{"year":2000,"month":4,"date":1,"utc":true},{"year":2000,"month":5,"date":1,"utc":true},{"year":2000,"month":6,"date":1,"utc":true}]}},
  "y":{"field":"value","type":"quantitative","title":null,"scale":{"domain":[-790,18965],"nice":false,"zero":false},"axis":{"values":[0,2500,5000,7500,10000,12500,15000,17500],"format":"d"}},
  "color":{"field":"series","type":"nominal","scale":{"domain":["Potential","Water-limited"],"range":["#1f77b4","#d62728"]},"legend":null}
 }
},
{
 "title":{"text":"TWSO (kg/ha)"},
 "width":485,"height":459,
 "data":{"name":"twso"},
 "transform":[{"fold":["Potential","Water-limited"],"as":["series","value"]}],
 "mark":{"type":"line","strokeWidth":2},
 "encoding":{
  "x":{"field":"date","type":"temporal","title":null,"scale":{"type":"utc","nice":false,"domain":[{"year":1999,"month":12,"date":25,"hours":0,"utc":true},{"year":2000,"month":6,"date":7,"hours":10,"utc":true}]},"axis":{"labelExpr":"utcFormat(datum.value, '%Y-%m')","values":[{"year":2000,"month":1,"date":1,"utc":true},{"year":2000,"month":2,"date":1,"utc":true},{"year":2000,"month":3,"date":1,"utc":true},{"year":2000,"month":4,"date":1,"utc":true},{"year":2000,"month":5,"date":1,"utc":true},{"year":2000,"month":6,"date":1,"utc":true}]}},
  "y":{"field":"value","type":"quantitative","title":null,"scale":{"domain":[-437,9167],"nice":false,"zero":false},"axis":{"values":[0,2000,4000,6000,8000],"format":"d"}},
  "color":{"field":"series","type":"nominal","scale":{"domain":["Potential","Water-limited"],"range":["#1f77b4","#d62728"]},"legend":null}
 }
},
{
 "title":{"text":"TRA (cm/day)"},
 "width":485,"height":459,
 "data":{"name":"tra"},
 "transform":[{"fold":["Potential","Water-limited"],"as":["series","value"]}],
 "mark":{"type":"line","strokeWidth":2},
 "encoding":{
  "x":{"field":"date","type":"temporal","title":null,"scale":{"type":"utc","nice":false,"domain":[{"year":1999,"month":12,"date":25,"hours":0,"utc":true},{"year":2000,"month":6,"date":7,"hours":10,"utc":true}]},"axis":{"labelExpr":"utcFormat(datum.value, '%Y-%m')","values":[{"year":2000,"month":1,"date":1,"utc":true},{"year":2000,"month":2,"date":1,"utc":true},{"year":2000,"month":3,"date":1,"utc":true},{"year":2000,"month":4,"date":1,"utc":true},{"year":2000,"month":5,"date":1,"utc":true},{"year":2000,"month":6,"date":1,"utc":true}]}},
  "y":{"field":"value","type":"quantitative","title":null,"scale":{"domain":[-0.0232,0.4872],"nice":false,"zero":false},"axis":{"values":[0,0.1,0.2,0.3,0.4],"format":".1f"}},
  "color":{"field":"series","type":"nominal","scale":{"domain":["Potential","Water-limited"],"range":["#1f77b4","#d62728"]},"legend":null}
 }
},
{
 "title":{"text":"SM (-)"},
 "width":485,"height":459,
 "data":{"name":"sm"},
 "transform":[{"fold":["Potential","Water-limited"],"as":["series","value"]}],
 "mark":{"type":"line","strokeWidth":2},
 "encoding":{
  "x":{"field":"date","type":"temporal","title":null,"scale":{"type":"utc","nice":false,"domain":[{"year":1999,"month":12,"date":25,"hours":0,"utc":true},{"year":2000,"month":6,"date":7,"hours":10,"utc":true}]},"axis":{"labelExpr":"utcFormat(datum.value, '%Y-%m')","values":[{"year":2000,"month":1,"date":1,"utc":true},{"year":2000,"month":2,"date":1,"utc":true},{"year":2000,"month":3,"date":1,"utc":true},{"year":2000,"month":4,"date":1,"utc":true},{"year":2000,"month":5,"date":1,"utc":true},{"year":2000,"month":6,"date":1,"utc":true}]}},
  "y":{"field":"value","type":"quantitative","title":null,"scale":{"domain":[0.1538,0.3452],"nice":false,"zero":false},"axis":{"values":[0.175,0.2,0.225,0.25,0.275,0.3,0.325],"format":".3f"}},
  "color":{"field":"series","type":"nominal","scale":{"domain":["Potential","Water-limited"],"range":["#1f77b4","#d62728"]},"legend":null}
 }
}
]
}
